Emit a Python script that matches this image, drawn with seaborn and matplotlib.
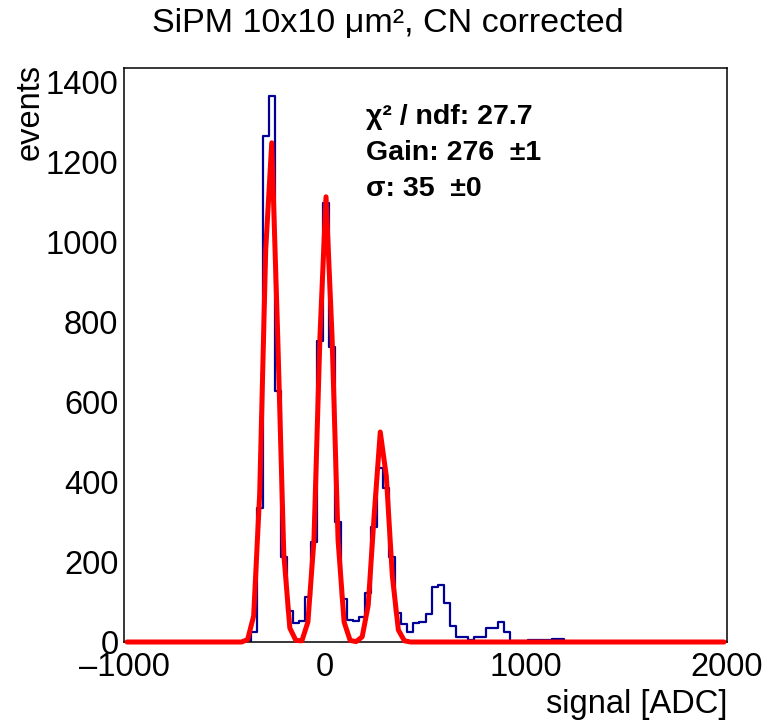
import numpy as np
import pandas as pd
import matplotlib
matplotlib.use("Agg")
import matplotlib.pyplot as plt
from matplotlib.ticker import MultipleLocator, FixedLocator, FuncFormatter
import seaborn as sns

# ---------------- data ----------------
x_min, x_max, bin_width = -1000, 2000, 30
counts = ([0] * 20 +
          [2, 24, 334, 1266, 1366, 627, 213, 78, 47, 53,
           112, 251, 753, 1097, 737, 301, 107, 55, 52, 62,
           123, 288, 434, 384, 213, 73, 44, 24, 48, 51,
           70, 138, 142, 98, 40, 13, 13, 5, 12, 13,
           35, 35, 49, 26, 2, 2, 2, 4, 5, 4,
           6, 8, 8] +
          [0] * 27)
fit_values = ([0] * 20 +
              [6, 65, 370, 980, 1248, 760, 220, 35, 4, 3,
               50, 255, 765, 1113, 765, 255, 50, 4, 1, 13,
               92, 320, 525, 415, 165, 30, 3] +
              [0] * 53)
x_ticks = [-1000, 0, 1000, 2000]
title = "SiPM 10x10 μm², CN corrected"
stats_lines = ["χ² / ndf: 27.7", "Gain: 276  ±1", "σ: 35  ±0"]

n_bins = len(counts)
centers = x_min + bin_width * (np.arange(n_bins) + 0.5)
df = pd.DataFrame({"signal": centers, "events": counts, "fit": fit_values})

# ---------------- style ----------------
sns.set_theme(style="white")
plt.rcParams["font.family"] = ["Liberation Sans", "DejaVu Sans"]
plt.rcParams["axes.linewidth"] = 1.1
plt.rcParams["axes.edgecolor"] = "black"
plt.rcParams["text.color"] = "black"

W, H = 768, 726
fig = plt.figure(figsize=(W / 100, H / 100), dpi=100)
ax = fig.add_axes([124 / W, 1 - 642 / H, 603 / W, (642 - 68.4) / H])

sns.histplot(data=df, x="signal", weights="events", binwidth=bin_width,
             binrange=(x_min, x_max), element="step", fill=False,
             color="#000096", linewidth=1.6, ax=ax, zorder=2)
sns.lineplot(data=df, x="signal", y="fit", color="#ff0000", linewidth=3.6,
             ax=ax, zorder=3, clip_on=False)

ax.set_xlim(x_min, x_max)
ax.set_ylim(0, 1434)
ax.set_xlabel("")
ax.set_ylabel("")

ax.xaxis.set_major_locator(FixedLocator(x_ticks))
ax.xaxis.set_minor_locator(MultipleLocator(200))
ax.yaxis.set_major_locator(MultipleLocator(200))
ax.yaxis.set_minor_locator(MultipleLocator(50))
ax.xaxis.set_major_formatter(FuncFormatter(lambda v, p: f"{v:.0f}".replace("-", "\u2013")))
ax.yaxis.set_major_formatter(FuncFormatter(lambda v, p: f"{v:.0f}"))

ax.tick_params(axis="both", which="both", direction="in", top=False, right=False,
               color="black", width=1.1, labelsize=23.5, labelcolor="black")
ax.tick_params(axis="x", which="major", length=12.5, pad=7)
ax.tick_params(axis="x", which="minor", length=6.2)
ax.tick_params(axis="y", which="major", length=6.5, pad=4)
ax.tick_params(axis="y", which="minor", length=3.5)
for s in ax.spines.values():
    s.set_visible(True)
    s.set_color("black")

fig.text(388 / W, 1 - 24 / H, title, ha="center", va="center", fontsize=24.5, color="black")
fig.text(30 / W, 1 - 64 / H, "events", rotation=90, ha="center", va="top",
         fontsize=23.5, color="black")
fig.text(727 / W, 1 - 704 / H, "signal [ADC]", ha="right", va="center",
         fontsize=23.5, color="black")

for i, line in enumerate(stats_lines):
    fig.text(366 / W, 1 - (116.5 + 36.5 * i) / H, line, ha="left", va="center",
             fontsize=20.5, fontweight="bold", color="black")

fig.savefig("out.png", dpi=100, facecolor="white")
